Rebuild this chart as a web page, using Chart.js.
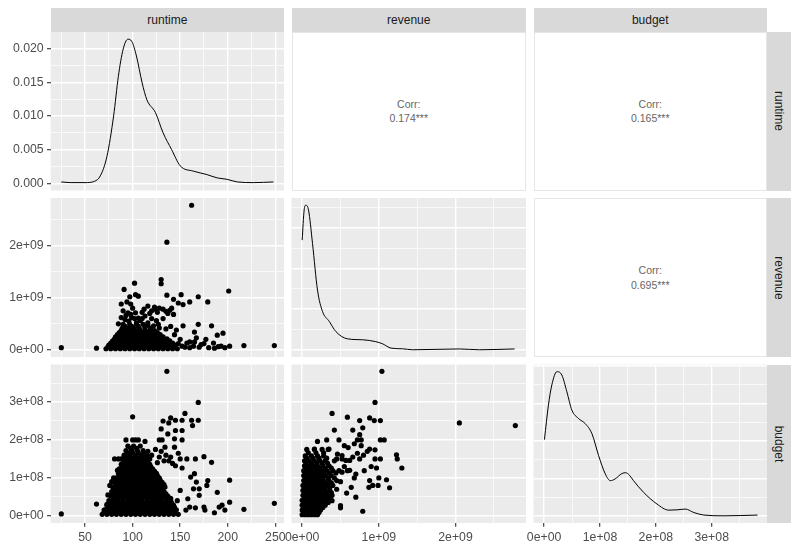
<!DOCTYPE html>
<html>
<head>
<meta charset="utf-8">
<script src="https://cdn.jsdelivr.net/npm/chart.js@4.4.1/dist/chart.umd.min.js"></script>
<style>
  body { margin: 0; background: #fff; font-family: "Liberation Sans", Arial, sans-serif; }
  #wrap { position: relative; width: 800px; height: 550px; overflow: hidden; }
  canvas { position: absolute; left: 0; top: 0; }
  .strip { position: absolute; background: #d9d9d9; color: #1a1a1a; font-size: 12px;
           display: flex; align-items: center; justify-content: center; }
  .strip.v span { transform: rotate(90deg); white-space: nowrap; }
  .corr { position: absolute; background: #fff; border: 1px solid #e6e6e6; box-sizing: border-box;
          display: flex; flex-direction: column; align-items: center; justify-content: center;
          color: #666; font-size: 10.5px; line-height: 14.5px; }
</style>
</head>
<body>
<div id="wrap"></div>
<script>
// Variables and correlation labels
const variables = ['runtime', 'revenue', 'budget'];
const corrRuntimeRevenue = '0.174***';
const corrRuntimeBudget = '0.165***';
const corrRevenueBudget = '0.695***';

// Tick values (revenue in 1e9, budget in 1e8) and their labels
const runtimeTicks = [50, 100, 150, 200, 250];
const runtimeTickLabels = ['50', '100', '150', '200', '250'];
const revenueTicks = [0, 1, 2];
const revenueTickLabels = ['0e+00', '1e+09', '2e+09'];
const budgetTicks = [0, 1, 2, 3];
const budgetTickLabels = ['0e+00', '1e+08', '2e+08', '3e+08'];
const runtimeDensityTicks = [0, 0.005, 0.01, 0.015, 0.02];
const runtimeDensityTickLabels = ['0.000', '0.005', '0.010', '0.015', '0.020'];
// unlabelled density grids of the revenue and budget diagonals (density in 1e-9)
const revenueDensityTicks = [0, 0.5, 1, 1.5];
const budgetDensityTicks = [0, 2.5, 5, 7.5, 10];

// Axis limits
const runtimeLimits = [13.85, 259.15];
const revenueLimits = [-0.139, 2.919];
const budgetLimits = [-0.19, 3.99];
const runtimeDensityLimits = [-0.00107, 0.02247];
const revenueDensityLimits = [-0.089, 1.869];
const budgetDensityLimits = [-0.48, 10.11];

// Diagonal densities [x, density]
const runtimeDensity = [[25,0.0002],[35,0.0001],[50,0.0001],[60,0.0003],[66,0.0011],[73,0.004],[80,0.010],[85,0.0159],[90,0.0199],[95,0.0214],[99,0.0211],[104,0.0189],[110,0.0149],[115,0.0124],[124,0.0105],[132,0.0075],[141,0.005],[150,0.0026],[164,0.0018],[178,0.0013],[189,0.0008],[199,0.0006],[210,0.0002],[227,0.0001],[248,0.0002]];
const revenueDensity = [[0,1.35],[0.026,1.72],[0.048,1.78],[0.083,1.72],[0.135,1.31],[0.2,0.735],[0.266,0.47],[0.353,0.35],[0.44,0.224],[0.59,0.135],[0.79,0.123],[0.96,0.10],[1.05,0.073],[1.16,0.02],[1.31,0.012],[1.44,0],[2.05,0.01],[2.31,0],[2.77,0.01]];
const budgetDensity = [[0.006,5.09],[0.077,7.39],[0.138,8.74],[0.228,9.63],[0.317,9.41],[0.407,8.29],[0.497,7.06],[0.616,6.5],[0.736,6.16],[0.856,5.49],[0.975,4.03],[1.095,2.8],[1.185,2.35],[1.27,2.46],[1.39,2.82],[1.46,2.88],[1.53,2.7],[1.6,2.35],[1.78,1.57],[2.02,0.79],[2.23,0.38],[2.38,0.40],[2.53,0.45],[2.68,0.22],[2.86,0.05],[3.22,0],[3.82,0.05]];

// Scatter points: runtime vs revenue (1e9)
const runtimeRevenue = [
  [25,0.04],[62,0.03],[162,2.78],[136,2.07],[201,1.13],[130,1.35],[130,1.27],[102,1.28],[91,1.16],[103,1.06],[97,1.02],[106,1.03],[136,1.05],[151,1.06],[169,1.02],[179,0.92],[88,0.88],[94,0.92],[116,0.84],[123,0.82],[132,0.78],[143,0.97],[148,0.90],[160,0.92],[153,0.87],[143,0.68],[95,0.71],[103,0.71],[113,0.65],[106,0.61],[92,0.58],[85,0.50],[127,0.49],[116,0.52],[153,0.46],[169,0.49],[183,0.46],[144,0.29],[165,0.34],[195,0.32],[189,0.28],[177,0.20],[167,0.23],[157,0.13],[217,0.08],[249,0.08],[202,0.07],[193,0.07],[186,0.03],[172,0.10],[164,0.07],
  [120,0.75],[126,0.72],[128,0.80],[135,0.74],[139,0.76],[141,0.80],[137,0.70],[124,0.78],[118,0.70],[110,0.72],[112,0.78],[100,0.80],[98,0.88],[90,0.75],[93,0.66],[99,0.62],[108,0.56],[120,0.60],[125,0.56],[132,0.60],[128,0.42],[135,0.40],[140,0.45],[146,0.38],[150,0.20],[148,0.12],[155,0.05],[160,0.15],[165,0.15],[170,0.05],[175,0.12],[180,0.04],[185,0.13],[190,0.06],[197,0.04],[160,0.04],[152,0.07],
  [96,0.55],[102,0.60],[110,0.60],[88,0.62],[104,0.52],[98,0.68],[116,0.47],[122,0.46],
  [72,0.02],[77,0.02],[82,0.02],[87,0.02],[92,0.02],[97,0.02],[102,0.02],[107,0.02],[112,0.02],[117,0.02],[122,0.02],[127,0.02],[132,0.02],[137,0.02],[142,0.02],[147,0.02],
  [74,0.055],[79,0.055],[84,0.055],[89,0.055],[94,0.055],[99,0.055],[104,0.055],[109,0.055],[114,0.055],[119,0.055],[124,0.055],[129,0.055],[134,0.055],[139,0.055],[144,0.055],
  [75,0.09],[80,0.09],[85,0.09],[90,0.09],[95,0.09],[100,0.09],[105,0.09],[110,0.09],[115,0.09],[120,0.09],[125,0.09],[130,0.09],[135,0.09],[140,0.09],[145,0.09],
  [77,0.13],[82,0.13],[87,0.13],[92,0.13],[97,0.13],[102,0.13],[107,0.13],[112,0.13],[117,0.13],[122,0.13],[127,0.13],[132,0.13],[137,0.13],[142,0.13],
  [79,0.17],[84,0.17],[89,0.17],[94,0.17],[99,0.17],[104,0.17],[109,0.17],[114,0.17],[119,0.17],[124,0.17],[129,0.17],[134,0.17],[139,0.17],
  [81,0.21],[86,0.21],[91,0.21],[96,0.21],[101,0.21],[106,0.21],[111,0.21],[116,0.21],[121,0.21],[126,0.21],[131,0.21],[136,0.21],
  [82,0.25],[87,0.25],[92,0.25],[97,0.25],[102,0.25],[107,0.25],[112,0.25],[117,0.25],[122,0.25],[127,0.25],[132,0.25],
  [84,0.29],[89,0.29],[94,0.29],[99,0.29],[104,0.29],[109,0.29],[114,0.29],[119,0.29],[124,0.29],[129,0.29],
  [86,0.33],[91,0.33],[96,0.33],[101,0.33],[106,0.33],[111,0.33],[116,0.33],[121,0.33],[126,0.33],
  [88,0.37],[93,0.37],[98,0.37],[103,0.37],[108,0.37],[113,0.37],[118,0.37],[123,0.37],
  [89,0.41],[95,0.41],[101,0.41],[107,0.41],[113,0.41],[119,0.41],
  [92,0.45],[99,0.45],[106,0.45],[113,0.45],
  [90,0.49],[97,0.49],[104,0.49],[111,0.49]
];

// Scatter points: runtime vs budget (1e8)
const runtimeBudget = [
  [25,0.05],[62,0.31],[136,3.81],[169,2.99],[100,2.61],[155,2.70],[140,2.58],[132,2.50],[138,2.45],[145,2.52],[152,2.52],[162,2.52],[169,2.52],[163,2.38],[130,2.29],[137,2.16],[145,2.25],[152,2.25],[144,2.03],[152,2.00],[128,2.00],[131,2.00],[134,1.81],[144,1.81],[93,2.00],[100,2.00],[103,2.00],[106,2.00],[113,1.96],[175,1.56],[166,1.50],[157,1.50],[183,1.41],[152,1.26],[138,1.45],[142,1.38],[145,1.32],[165,1.11],[161,1.02],[167,0.89],[179,0.93],[178,0.80],[202,0.94],[164,0.71],[170,0.71],[189,0.62],[150,0.67],[158,0.45],[170,0.54],[202,0.36],[194,0.28],[197,0.15],[191,0.23],[176,0.15],[166,0.21],[160,0.23],[156,0.15],[186,0.08],[217,0.17],[249,0.33],[175,0.23],[147,0.40],
  [130,1.70],[135,1.60],[128,1.55],[133,1.45],[126,1.40],[140,1.55],[148,1.65],[150,1.50],[120,1.60],[118,1.50],[124,1.75],[116,1.70],[81,1.50],[85,1.50],[88,1.50],[84,1.20],[80,1.00],[78,0.90],[76,0.80],[73,0.30],[70,0.15],[74,0.55],
  [68,0.04],[73,0.04],[78,0.04],[83,0.04],[88,0.04],[93,0.04],[98,0.04],[103,0.04],[108,0.04],[113,0.04],[118,0.04],[123,0.04],[128,0.04],[133,0.04],[138,0.04],[143,0.04],[148,0.04],
  [70,0.10],[75,0.10],[80,0.10],[85,0.10],[90,0.10],[95,0.10],[100,0.10],[105,0.10],[110,0.10],[115,0.10],[120,0.10],[125,0.10],[130,0.10],[135,0.10],[140,0.10],[145,0.10],
  [71,0.16],[76,0.16],[81,0.16],[86,0.16],[91,0.16],[96,0.16],[101,0.16],[106,0.16],[111,0.16],[116,0.16],[121,0.16],[126,0.16],[131,0.16],[136,0.16],[141,0.16],[146,0.16],
  [74,0.22],[79,0.22],[84,0.22],[89,0.22],[94,0.22],[99,0.22],[104,0.22],[109,0.22],[114,0.22],[119,0.22],[124,0.22],[129,0.22],[134,0.22],[139,0.22],[144,0.22],
  [73,0.28],[78,0.28],[83,0.28],[88,0.28],[93,0.28],[98,0.28],[103,0.28],[108,0.28],[113,0.28],[118,0.28],[123,0.28],[128,0.28],[133,0.28],[138,0.28],[143,0.28],
  [76,0.34],[81,0.34],[86,0.34],[91,0.34],[96,0.34],[101,0.34],[106,0.34],[111,0.34],[116,0.34],[121,0.34],[126,0.34],[131,0.34],[136,0.34],[141,0.34],
  [75,0.40],[80,0.40],[85,0.40],[90,0.40],[95,0.40],[100,0.40],[105,0.40],[110,0.40],[115,0.40],[120,0.40],[125,0.40],[130,0.40],[135,0.40],[140,0.40],
  [80,0.46],[85,0.46],[90,0.46],[95,0.46],[100,0.46],[105,0.46],[110,0.46],[115,0.46],[120,0.46],[125,0.46],[130,0.46],[135,0.46],[140,0.46],
  [77,0.52],[82,0.52],[87,0.52],[92,0.52],[97,0.52],[102,0.52],[107,0.52],[112,0.52],[117,0.52],[122,0.52],[127,0.52],[132,0.52],[137,0.52],
  [80,0.58],[85,0.58],[90,0.58],[95,0.58],[100,0.58],[105,0.58],[110,0.58],[115,0.58],[120,0.58],[125,0.58],[130,0.58],[135,0.58],
  [78,0.64],[83,0.64],[88,0.64],[93,0.64],[98,0.64],[103,0.64],[108,0.64],[113,0.64],[118,0.64],[123,0.64],[128,0.64],[133,0.64],
  [81,0.70],[86,0.70],[91,0.70],[96,0.70],[101,0.70],[106,0.70],[111,0.70],[116,0.70],[121,0.70],[126,0.70],[131,0.70],
  [79,0.76],[84,0.76],[89,0.76],[94,0.76],[99,0.76],[104,0.76],[109,0.76],[114,0.76],[119,0.76],[124,0.76],[129,0.76],[134,0.76],
  [83,0.82],[88,0.82],[93,0.82],[98,0.82],[103,0.82],[108,0.82],[113,0.82],[118,0.82],[123,0.82],[128,0.82],[133,0.82],
  [81,0.88],[86,0.88],[91,0.88],[96,0.88],[101,0.88],[106,0.88],[111,0.88],[116,0.88],[121,0.88],[126,0.88],[131,0.88],
  [84,0.94],[89,0.94],[94,0.94],[99,0.94],[104,0.94],[109,0.94],[114,0.94],[119,0.94],[124,0.94],[129,0.94],
  [83,1.00],[88,1.00],[93,1.00],[98,1.00],[103,1.00],[108,1.00],[113,1.00],[118,1.00],[123,1.00],[128,1.00],
  [86,1.06],[91,1.06],[96,1.06],[101,1.06],[106,1.06],[111,1.06],[116,1.06],[121,1.06],[126,1.06],
  [85,1.12],[90,1.12],[95,1.12],[100,1.12],[105,1.12],[110,1.12],[115,1.12],[120,1.12],[125,1.12],
  [88,1.18],[93,1.18],[98,1.18],[103,1.18],[108,1.18],[113,1.18],[118,1.18],[123,1.18],
  [86,1.24],[91,1.24],[96,1.24],[101,1.24],[106,1.24],[111,1.24],[116,1.24],[121,1.24],
  [89,1.30],[94,1.30],[99,1.30],[104,1.30],[109,1.30],[114,1.30],[119,1.30],
  [88,1.36],[93,1.36],[98,1.36],[103,1.36],[108,1.36],[113,1.36],[118,1.36],
  [91,1.42],[96,1.42],[101,1.42],[106,1.42],[111,1.42],[116,1.42],
  [90,1.48],[95,1.48],[100,1.48],[105,1.48],[110,1.48],[115,1.48],
  [93,1.54],[98,1.54],[103,1.54],[108,1.54],[113,1.54],
  [91,1.60],[97,1.60],[103,1.60],[109,1.60],[115,1.60],
  [95,1.66],[100,1.66],[106,1.66],[112,1.66],
  [93,1.72],[99,1.72],[105,1.72],[111,1.72],
  [98,1.78],[104,1.78],
  [95,1.84],[101,1.84],[108,1.84]
];

// Scatter points: revenue (1e9) vs budget (1e8)
const revenueBudget = [
  [1.04,3.81],[0.95,2.99],[0.39,2.70],[0.59,2.60],[0.75,2.51],[0.88,2.58],[0.94,2.51],[1.02,2.51],[0.79,2.32],[0.66,2.26],[0.42,2.26],[0.75,2.14],[1.02,2.00],[1.07,2.00],[0.72,2.00],[0.77,2.00],[0.48,2.00],[0.55,1.85],[0.32,2.00],[0.20,1.96],[0.16,1.76],[0.77,1.85],[0.88,1.76],[0.95,1.74],[1.23,1.61],[1.24,1.50],[1.30,1.26],[1.02,1.50],[0.97,1.26],[1.10,0.95],[1.14,0.74],[0.88,0.93],[0.87,0.75],[0.99,0.80],[0.79,0.12],[2.05,2.45],[2.78,2.38],[0.70,0.49],[0.50,0.27],[0.50,0.21],[0.39,0.40],[0.64,0.75],[0.70,1.10],[0.59,1.19],[0.81,1.19],[0.57,1.46],[0.62,1.46],[0.46,1.63],[0.52,1.59],[0.35,1.76],
  [0.60,1.80],[0.68,1.90],[0.72,1.65],[0.66,1.55],[0.75,1.50],[0.80,1.60],[0.85,1.70],[0.55,1.30],[0.62,1.20],[0.68,1.00],[0.50,0.90],[0.58,0.60],[0.45,0.70],[0.42,1.00],[0.52,1.15],[0.90,1.30],[0.95,1.50],[1.00,1.00],[0.92,0.80],
  [0.00,0.03],[0.04,0.03],[0.08,0.03],[0.12,0.03],[0.16,0.03],[0.20,0.03],
  [0.02,0.09],[0.06,0.09],[0.10,0.09],[0.14,0.09],[0.18,0.09],[0.22,0.09],
  [0.00,0.15],[0.04,0.15],[0.08,0.15],[0.12,0.15],[0.16,0.15],[0.20,0.15],[0.24,0.15],
  [0.02,0.22],[0.06,0.22],[0.10,0.22],[0.14,0.22],[0.18,0.22],[0.22,0.22],[0.27,0.22],
  [0.00,0.28],[0.04,0.28],[0.08,0.28],[0.12,0.28],[0.16,0.28],[0.20,0.28],[0.25,0.28],[0.30,0.28],
  [0.02,0.35],[0.06,0.35],[0.10,0.35],[0.14,0.35],[0.19,0.35],[0.24,0.35],[0.29,0.35],[0.34,0.35],
  [0.00,0.41],[0.04,0.41],[0.08,0.41],[0.12,0.41],[0.17,0.41],[0.22,0.41],[0.27,0.41],[0.32,0.41],
  [0.03,0.48],[0.07,0.48],[0.11,0.48],[0.16,0.48],[0.21,0.48],[0.26,0.48],[0.31,0.48],[0.36,0.48],
  [0.01,0.54],[0.05,0.54],[0.09,0.54],[0.14,0.54],[0.19,0.54],[0.24,0.54],[0.29,0.54],[0.34,0.54],[0.39,0.54],
  [0.03,0.61],[0.07,0.61],[0.12,0.61],[0.17,0.61],[0.22,0.61],[0.27,0.61],[0.33,0.61],[0.38,0.61],
  [0.01,0.67],[0.05,0.67],[0.10,0.67],[0.15,0.67],[0.20,0.67],[0.25,0.67],[0.30,0.67],[0.36,0.67],
  [0.03,0.74],[0.08,0.74],[0.13,0.74],[0.18,0.74],[0.24,0.74],[0.30,0.74],[0.36,0.74],
  [0.01,0.80],[0.06,0.80],[0.11,0.80],[0.16,0.80],[0.21,0.80],[0.27,0.80],[0.33,0.80],[0.40,0.80],
  [0.04,0.87],[0.09,0.87],[0.14,0.87],[0.19,0.87],[0.25,0.87],[0.31,0.87],[0.38,0.87],
  [0.02,0.93],[0.07,0.93],[0.12,0.93],[0.17,0.93],[0.22,0.93],[0.28,0.93],[0.35,0.93],[0.45,0.93],
  [0.04,1.00],[0.09,1.00],[0.15,1.00],[0.21,1.00],[0.27,1.00],[0.34,1.00],
  [0.02,1.06],[0.07,1.06],[0.12,1.06],[0.18,1.06],[0.24,1.06],[0.30,1.06],[0.38,1.06],
  [0.04,1.13],[0.10,1.13],[0.15,1.13],[0.21,1.13],[0.28,1.13],[0.35,1.13],[0.44,1.13],
  [0.02,1.19],[0.07,1.19],[0.13,1.19],[0.19,1.19],[0.25,1.19],[0.32,1.19],[0.40,1.19],[0.48,1.19],
  [0.05,1.26],[0.10,1.26],[0.17,1.26],[0.23,1.26],[0.30,1.26],[0.38,1.26],
  [0.03,1.32],[0.08,1.32],[0.14,1.32],[0.20,1.32],[0.27,1.32],[0.35,1.32],
  [0.05,1.39],[0.12,1.39],[0.19,1.39],[0.26,1.39],[0.33,1.39],
  [0.03,1.45],[0.09,1.45],[0.16,1.45],[0.23,1.45],[0.30,1.45],[0.42,1.45],[0.45,1.50],[0.52,1.50],
  [0.06,1.52],[0.14,1.52],[0.22,1.52],[0.32,1.52],
  [0.04,1.58],[0.12,1.58],[0.20,1.58],[0.28,1.58],
  [0.08,1.66],[0.18,1.66],[0.28,1.66],
  [0.06,1.75],[0.16,1.75],[0.26,1.75],[0.34,1.75]
];

// Panel geometry (pixels)
const W = 800, H = 550;
const cols = [[50.7, 284], [291.5, 526], [533.5, 767]];
const rows = [[32, 190.5], [198, 357], [364.5, 523]];
const FONT = 'Liberation Sans, Arial, sans-serif';

const wrap = document.getElementById('wrap');

function addDiv(cls, left, top, width, height, html) {
  const d = document.createElement('div');
  d.className = cls;
  Object.assign(d.style, { left: left + 'px', top: top + 'px', width: width + 'px', height: height + 'px' });
  d.innerHTML = html;
  wrap.appendChild(d);
}

// Strips
variables.forEach((name, i) => {
  addDiv('strip', cols[i][0], 8, cols[i][1] - cols[i][0], rows[0][0] - 8, name);
  addDiv('strip v', 767, rows[i][0], 24, rows[i][1] - rows[i][0], '<span>' + name + '</span>');
});

// Correlation panels
function corrPanel(r, c, value) {
  addDiv('corr', cols[c][0], rows[r][0], cols[c][1] - cols[c][0], rows[r][1] - rows[r][0],
    '<div>Corr:</div><div>' + value + '</div>');
}
corrPanel(0, 1, corrRuntimeRevenue);
corrPanel(0, 2, corrRuntimeBudget);
corrPanel(1, 2, corrRevenueBudget);

// Grey panel background
const panelBg = {
  id: 'panelBg',
  beforeDraw(chart) {
    const a = chart.chartArea, c = chart.ctx;
    c.save();
    c.fillStyle = '#ebebeb';
    c.fillRect(a.left, a.top, a.right - a.left, a.bottom - a.top);
    c.restore();
  }
};

// Axis with major + minor gridlines, like ggplot
function axis(limits, majors, labels, show, horizontal, size) {
  const step = majors[1] - majors[0];
  const minors = [majors[0] - step / 2];
  for (let i = 0; i < majors.length; i++) minors.push(majors[i] + step / 2);
  const ticks = majors.map(v => ({ value: v, minor: false }))
    .concat(minors.filter(v => v >= limits[0] && v <= limits[1]).map(v => ({ value: v, minor: true })))
    .sort((a, b) => a.value - b.value);
  return {
    type: 'linear',
    min: limits[0],
    max: limits[1],
    afterBuildTicks: s => { s.ticks = ticks.map(t => Object.assign({}, t)); },
    afterFit: s => { if (horizontal) s.height = size; else s.width = size; },
    border: { display: false },
    grid: {
      color: '#ffffff',
      lineWidth: c => (c.tick && c.tick.minor) ? 0.7 : 1.4,
      drawTicks: show,
      tickLength: 3.7,
      tickWidth: 1.1,
      tickColor: c => (c.tick && c.tick.minor) ? 'rgba(0,0,0,0)' : '#333333'
    },
    ticks: {
      display: show,
      autoSkip: false,
      maxRotation: 0,
      minRotation: 0,
      padding: 3.3,
      color: '#4d4d4d',
      font: { family: FONT, size: 12.3 },
      callback: (v, i, t) => t[i].minor ? '' : (labels ? labels[majors.indexOf(v)] : '')
    }
  };
}

function panel(r, c, xAxis, yAxis, datasets) {
  const cv = document.createElement('canvas');
  cv.width = W; cv.height = H;
  wrap.appendChild(cv);
  const showX = r === 2, showY = c === 0;
  const L = cols[c][0], R = cols[c][1], T = rows[r][0], B = rows[r][1];
  new Chart(cv.getContext('2d'), {
    type: 'scatter',
    data: { datasets: datasets },
    options: {
      responsive: false,
      animation: false,
      events: [],
      layout: { padding: { left: showY ? 0 : L, right: W - R, top: T, bottom: showX ? 0 : H - B } },
      scales: {
        x: axis(xAxis[0], xAxis[1], xAxis[2], showX, true, showX ? H - B : 0),
        y: axis(yAxis[0], yAxis[1], yAxis[2], showY, false, showY ? L : 0)
      },
      plugins: { legend: { display: false }, tooltip: { enabled: false } }
    },
    plugins: [panelBg]
  });
}

const toXY = arr => arr.map(p => ({ x: p[0], y: p[1] }));
const points = arr => ({ data: toXY(arr), pointRadius: 2.6, pointBackgroundColor: '#000', pointBorderWidth: 0, showLine: false });
const curve = arr => ({ data: toXY(arr), pointRadius: 0, showLine: true, borderColor: '#000', borderWidth: 1, cubicInterpolationMode: 'monotone' });

const runtimeAxis = [runtimeLimits, runtimeTicks, runtimeTickLabels];
const revenueAxis = [revenueLimits, revenueTicks, revenueTickLabels];
const budgetAxis = [budgetLimits, budgetTicks, budgetTickLabels];

panel(0, 0, runtimeAxis, [runtimeDensityLimits, runtimeDensityTicks, runtimeDensityTickLabels], [curve(runtimeDensity)]);
panel(1, 0, runtimeAxis, revenueAxis, [points(runtimeRevenue)]);
panel(2, 0, runtimeAxis, budgetAxis, [points(runtimeBudget)]);
panel(1, 1, revenueAxis, [revenueDensityLimits, revenueDensityTicks, null], [curve(revenueDensity)]);
panel(2, 1, revenueAxis, budgetAxis, [points(revenueBudget)]);
panel(2, 2, budgetAxis, [budgetDensityLimits, budgetDensityTicks, null], [curve(budgetDensity)]);
</script>
</body>
</html>
